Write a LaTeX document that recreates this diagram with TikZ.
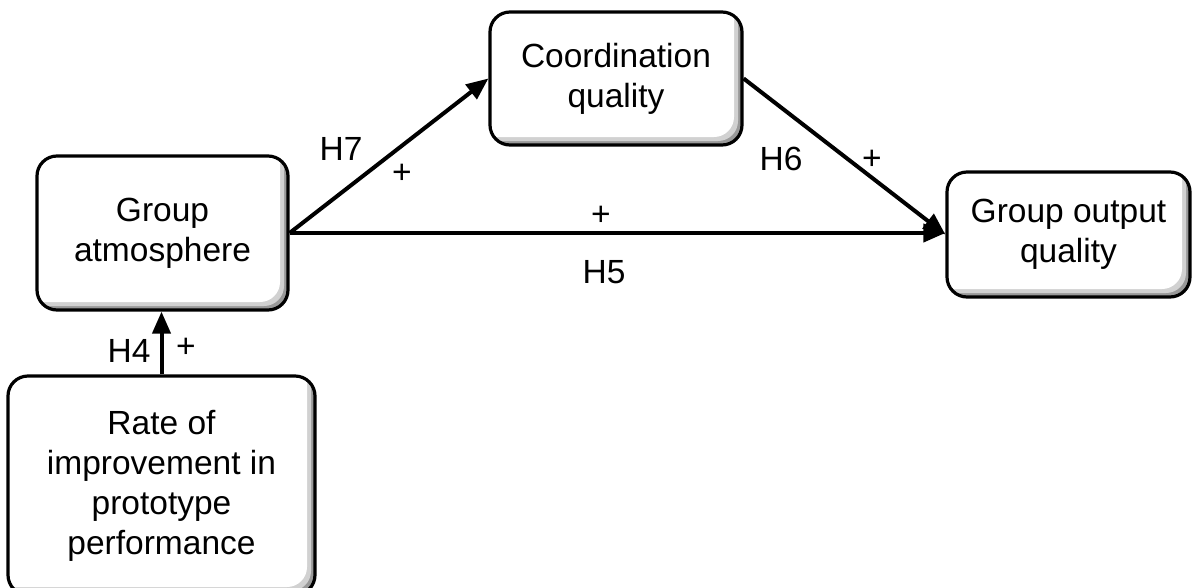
\documentclass[tikz,border=0pt]{standalone}
\usepackage{fontspec}
\setmainfont{Liberation Sans}
\usetikzlibrary{arrows.meta}
\tikzset{
  box/.style={draw=black, line width=3.2pt, rounded corners=20pt, fill=white,
    align=center, inner sep=0pt, font=\fontsize{33.5}{40}\selectfont,
    path picture={
      \fill[black!40] (path picture bounding box.south west) rectangle (path picture bounding box.north east);
      \fill[black!18, rounded corners=20pt] ([shift={(-20pt,20pt)}]path picture bounding box.north west) rectangle ([shift={(-4pt,4pt)}]path picture bounding box.south east);
      \fill[white, rounded corners=20pt] ([shift={(-20pt,20pt)}]path picture bounding box.north west) rectangle ([shift={(-8pt,8pt)}]path picture bounding box.south east);
    }},
  arr/.style={line width=4pt, -{Triangle[length=22pt,width=18pt]}},
  lbl/.style={font=\fontsize{33.5}{40}\selectfont, anchor=base, inner sep=0pt}
}
\begin{document}
\begin{tikzpicture}[x=1pt,y=-1pt]
\useasboundingbox (0,0) rectangle (1192,587);
\fill[white] (0,0) rectangle (1192,587);
\node[box, minimum width=252pt, minimum height=133pt] (coord) at (616,78.5) {Coordination\\quality};
\node[box, minimum width=251pt, minimum height=154pt] (atmos) at (162.5,233) {Group\\atmosphere};
\node[box, minimum width=243pt, minimum height=125pt] (out) at (1068.5,234.5) {Group output\\quality};
\node[box, minimum width=307pt, minimum height=219pt] (rate) at (161.5,485.5) {Rate of\\improvement in\\prototype\\performance};
\draw[arr] (atmos.east) -- (coord.west);
\draw[arr] (coord.east) -- (out.west);
\draw[arr] (atmos.east) -- (atmos.east -| out.west);
\draw[arr] (rate.north) -- (rate.north |- atmos.south);
\node[lbl] (h7) at (341,160) {H7};
\node[lbl] (p7) at (402,183) {+};
\node[lbl] (h6) at (781,170) {H6};
\node[lbl] (p6) at (872,169) {+};
\node[lbl] (p5) at (601,225) {+};
\node[lbl] (h5) at (604,283) {H5};
\node[lbl] (h4) at (129,362) {H4};
\node[lbl] (p4) at (186,357) {+};
\end{tikzpicture}
\end{document}
